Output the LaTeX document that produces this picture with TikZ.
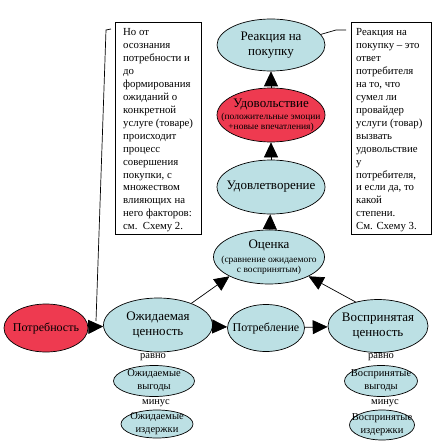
\documentclass[tikz,border=0pt]{standalone}
\usepackage{fontspec}
\setmainfont{Liberation Serif}
\newfontfamily\wideserif[FakeStretch=1.03]{Liberation Serif}
\usetikzlibrary{shapes.geometric,arrows.meta,calc}
\definecolor{lblue}{RGB}{188,224,228}
\definecolor{lred}{RGB}{238,58,80}
\newcommand{\smtxt}{\wideserif\fontsize{9.2}{10}\selectfont}
\begin{document}
\begin{tikzpicture}[x=1pt,y=-1pt,
  ell/.style={ellipse, draw=black, line width=0.7pt, inner xsep=-30pt, inner ysep=-6pt, align=center},
  bnode/.style={ell, fill=lblue},
  rnode/.style={ell, fill=lred},
  mainfont/.style={font=\fontsize{13}{15}\selectfont},
  narrowfont/.style={font=\fontsize{12}{15}\selectfont},
  smallfont/.style={font=\fontsize{10.5}{13}\selectfont},
  tbox/.style={draw=black, line width=0.7pt, fill=white, anchor=north west, inner sep=0pt},
  btext/.style={anchor=north west, inner sep=0pt, align=left, font=\fontsize{10.8}{12.93}\selectfont},
  lbl/.style={inner sep=0pt, font=\fontsize{10.5}{12}\selectfont},
  arr/.style={-{Triangle[length=15pt,width=14pt]}, line width=0.7pt},
  thin/.style={line width=0.7pt}
]
\useasboundingbox (0,0) rectangle (437,441);

% text boxes
\node[tbox, minimum width=86pt, minimum height=212pt] (lbox) at (115,22) {};
\node[btext] (ltext) at (123,28.5) {Но от\\осознания\\потребности и\\до\\формирования\\ожиданий о\\конкретной\\услуге (товаре)\\происходит\\процесс\\совершения\\покупки, с\\множеством\\влияющих на\\него факторов:\\см.\ \ Схему 2.};
\node[tbox, minimum width=80pt, minimum height=212pt] (rbox) at (351,22) {};
\node[btext] (rtext) at (356,28.5) {Реакция на\\покупку – это\\ответ\\потребителя\\на то, что\\сумел ли\\провайдер\\услуги (товар)\\вызвать\\удовольствие\\у\\потребителя,\\и если да, то\\какой\\степени.\\См. Схему 3.};

% ellipses
\node[bnode, mainfont, minimum width=108pt, minimum height=52pt] (reak) at (271,45) {Реакция на\\покупку};
\node[rnode, mainfont, minimum width=108pt, minimum height=54pt] (udov) at (271,115) {Удовольствие\\[-3pt]{\smtxt (положительные эмоции}\\[-5pt]{\smtxt +новые впечатления)}};
\node[bnode, mainfont, minimum width=108pt, minimum height=54pt] (udovl) at (271,187) {Удовлетворение};
\node[bnode, mainfont, minimum width=111pt, minimum height=54pt] (ocen) at (269,257) {Оценка\\[-1pt]{\smtxt (сравнение ожидаемого}\\[-5pt]{\smtxt с воспринятым)}};
\node[rnode, narrowfont, minimum width=84pt, minimum height=48pt] (potr) at (46,328) {Потребность};
\node[bnode, mainfont, minimum width=109pt, minimum height=54pt] (ozh) at (158,325) {Ожидаемая\\ценность};
\node[bnode, narrowfont, minimum width=77pt, minimum height=47pt] (potrb) at (266,328) {Потребление};
\node[bnode, mainfont, minimum width=100pt, minimum height=53pt] (vosp) at (378,326) {Воспринятая\\ценность};
\node[bnode, smallfont, minimum width=81pt, minimum height=31pt] (ozhv) at (154,381) {Ожидаемые\\выгоды};
\node[bnode, smallfont, minimum width=72pt, minimum height=28pt] (ozhi) at (157,424) {Ожидаемые\\издержки};
\node[bnode, smallfont, minimum width=73pt, minimum height=31pt] (vospv) at (381,381) {Воспринятые\\выгоды};
\node[bnode, smallfont, minimum width=65pt, minimum height=30pt] (vospi) at (382,425) {Воспринятые\\издержки};

% labels
\node[lbl] (r1) at (153,357) {равно};
\node[lbl] (m1) at (156,403) {минус};
\node[lbl] (r2) at (381,357) {равно};
\node[lbl] (m2) at (385,403) {минус};

% arrows
\draw[arr] (udov) -- (reak);
\draw[arr] (udovl) -- (udov);
\draw[arr] (ocen) -- (udovl);
\draw[arr] (potr) -- (ozh);
\draw[arr] (ozh) -- (potrb);
\draw[arr] (potrb) -- (vosp);
\draw[arr] (ozh.33) -- (ocen.206);
\draw[arr] (vosp.133) -- (ocen.334);

% callouts
\coordinate (lcA) at ($(lbox.north west)+(-4,7)$);
\coordinate (lcB) at ($(lbox.north west)+(-9,8)$);
\coordinate (lcC) at (96,321);
\draw[thin] (lcA) -- (lcB) -- (lcC);
\coordinate (rcA) at ($(rbox.north west)+(-5,8)$);
\coordinate (rcB) at ($(rbox.north west)+(-15,8)$);
\draw[thin] (reak.12) -- (rcB) -- (rcA);
\end{tikzpicture}
\end{document}
